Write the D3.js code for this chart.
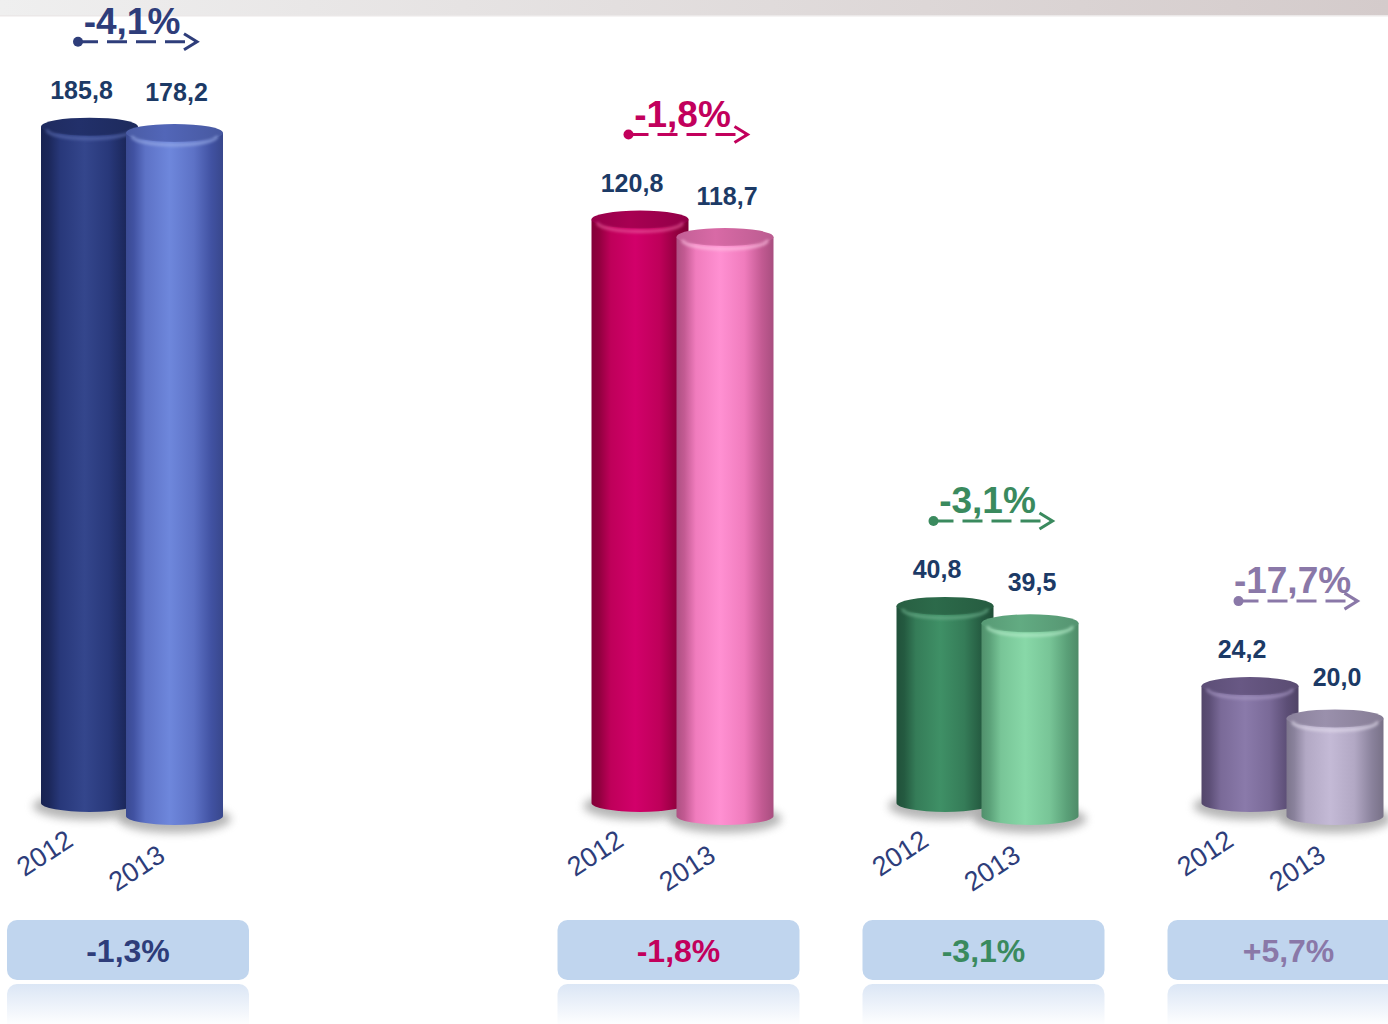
<!DOCTYPE html>
<html lang="ru">
<head>
<meta charset="UTF-8">
<title>Cylinders 2012 / 2013</title>
<script src="https://d3js.org/d3.v7.min.js"></script>
<style>
    html, body { margin: 0; padding: 0; background: #fff; overflow: hidden; }
    svg { display: block; font-family: Arial, "Liberation Sans", sans-serif; }
    .value-label { font-size: 25px; font-weight: bold; fill: #1c3a66; text-anchor: middle; }
    .year-label { font-size: 27px; fill: #2e3d7a; text-anchor: middle; }
    .change-label { font-size: 37px; font-weight: bold; text-anchor: middle; }
    .total-label { font-size: 32px; font-weight: bold; text-anchor: middle; }
</style>
</head>
<body>
<svg id="chart" width="1388" height="1024"></svg>
<script>
// Data
const groups = ["g1", "g2", "g3", "g4"];
const years = ["2012", "2013"];
const values2012 = [185.8, 120.8, 40.8, 24.2];
const values2013 = [178.2, 118.7, 39.5, 20.0];
const changeLabels = ["-4,1%", "-1,8%", "-3,1%", "-17,7%"];
const totalLabels = ["-1,3%", "-1,8%", "-3,1%", "+5,7%"];

// Colours per group: [2012 cylinder, 2013 cylinder], plus accent for the texts
const palette = [
    { accent: "#2e3d7a",
      c: [{ dark: "#1b275a", base: "#28387a", light: "#34468c", top: "#22306a", rim: "#5a6cb0" },
          { dark: "#4152a2", base: "#5d72c6", light: "#6e87dc", top: "#5266b8", rim: "#9aaee8" }] },
    { accent: "#c2005c",
      c: [{ dark: "#92003f", base: "#bf005a", light: "#d2006a", top: "#a80052", rim: "#e85a9c" },
          { dark: "#c25a92", base: "#f07cbd", light: "#ff90d2", top: "#d86aa6", rim: "#ffc2e4" }] },
    { accent: "#3a8a5e",
      c: [{ dark: "#245a40", base: "#357c58", light: "#3f9066", top: "#2c6a4a", rim: "#6db08c" },
          { dark: "#5aa078", base: "#78c597", light: "#88d8a8", top: "#62ab82", rim: "#b6ecca" }] },
    { accent: "#8a78a8",
      c: [{ dark: "#5c4e76", base: "#7a6a98", light: "#8a7aaa", top: "#685884", rim: "#a898c4" },
          { dark: "#8a829c", base: "#b2a8c4", light: "#c4bad6", top: "#9a90ac", rim: "#e2dcec" }] }
];

const svg = d3.select("#chart");
const width = +svg.attr("width");
const height = +svg.attr("height");

// Two panels: the first group has its own scale
const xLeft = d3.scaleBand().domain(["g1"]).range([-21, 285]);
const xMain = d3.scaleBand().domain(["g2", "g3", "g4"]).range([530, 1445]);
const yLeft = d3.scaleLinear().domain([0, 200]).range([0, 728]);
const yMain = d3.scaleLinear().domain([0, 200]).range([0, 966]);
const xYear = d3.scalePoint().domain(years).range([-42.5, 42.5]);

const panelOf = g => g === "g1"
    ? { x: xLeft, y: yLeft, front: 1.053 }
    : { x: xMain, y: yMain, front: 1.01 };

const baseY = { "2012": 803, "2013": 816 };   // front row sits lower
const cylR = 48.5, cylRy = 9;

const fmt = d3.formatLocale({ decimal: ",", thousands: " ", grouping: [3], currency: ["", ""] }).format(".1f");

// Defs
const defs = svg.append("defs");

const topBand = defs.append("linearGradient").attr("id", "topband");
topBand.append("stop").attr("offset", "0%").attr("stop-color", "#efefef");
topBand.append("stop").attr("offset", "100%").attr("stop-color", "#d4cbcb");

const refl = defs.append("linearGradient").attr("id", "refl")
    .attr("x1", 0).attr("y1", 0).attr("x2", 0).attr("y2", 1);
refl.append("stop").attr("offset", "0%").attr("stop-color", "#dbe6f5");
refl.append("stop").attr("offset", "85%").attr("stop-color", "#ffffff");

defs.append("filter").attr("id", "shadowBlur")
    .attr("x", "-50%").attr("y", "-100%").attr("width", "200%").attr("height", "300%")
    .append("feGaussianBlur").attr("stdDeviation", 4);
defs.append("filter").attr("id", "rimBlur")
    .attr("x", "-20%").attr("y", "-100%").attr("width", "140%").attr("height", "300%")
    .append("feGaussianBlur").attr("stdDeviation", 1.6);

palette.forEach((p, gi) => {
    p.c.forEach((c, yi) => {
        const body = defs.append("linearGradient").attr("id", `body-${gi}-${yi}`);
        [[0, d3.color(c.dark).darker(0.3)], [0.08, c.dark], [0.2, c.base], [0.45, c.light],
         [0.7, c.base], [0.88, c.dark], [1, d3.color(c.dark).darker(0.4)]]
            .forEach(([o, col]) => body.append("stop").attr("offset", o).attr("stop-color", col));
        const top = defs.append("linearGradient").attr("id", `top-${gi}-${yi}`);
        [[0, d3.color(c.top).darker(0.3)], [0.4, c.top], [1, d3.color(c.top).darker(0.4)]]
            .forEach(([o, col]) => top.append("stop").attr("offset", o).attr("stop-color", col));
    });
});

// Top band
svg.append("rect").attr("x", 0).attr("y", 0).attr("width", width).attr("height", 15)
    .attr("fill", "url(#topband)");
svg.append("rect").attr("x", 0).attr("y", 15).attr("width", width).attr("height", 1.5)
    .attr("fill", "#ebe8e8");

// Build cylinder records
const cyl = [];
groups.forEach((g, gi) => {
    const p = panelOf(g);
    const gc = p.x(g) + p.x.bandwidth() / 2;
    [values2012[gi], values2013[gi]].forEach((v, yi) => {
        const yr = years[yi];
        const h = p.y(v) * (yi === 1 ? p.front : 1);
        cyl.push({ g, gi, yi, yr, v, cx: gc + xYear(yr), bot: baseY[yr], top: baseY[yr] - h, gc });
    });
});

// Shadows
svg.append("g").selectAll("ellipse").data(cyl).join("ellipse")
    .attr("cx", d => d.cx).attr("cy", d => d.bot + 3)
    .attr("rx", cylR + 8).attr("ry", cylRy + 5)
    .attr("fill", "#7a7a7a").attr("opacity", 0.55)
    .attr("filter", "url(#shadowBlur)");

// Cylinders: back row (2012) first, then front row (2013)
const cg = svg.append("g").selectAll("g").data(cyl.slice().sort((a, b) => a.yi - b.yi)).join("g");

cg.append("path")
    .attr("d", d => `M${d.cx - cylR},${d.top} L${d.cx - cylR},${d.bot}` +
        ` A${cylR},${cylRy} 0 0 0 ${d.cx + cylR},${d.bot} L${d.cx + cylR},${d.top} Z`)
    .attr("fill", d => `url(#body-${d.gi}-${d.yi})`);

cg.append("ellipse")
    .attr("cx", d => d.cx).attr("cy", d => d.top)
    .attr("rx", cylR).attr("ry", cylRy)
    .attr("fill", d => `url(#top-${d.gi}-${d.yi})`);

cg.append("path")
    .attr("d", d => `M${d.cx - cylR + 6},${d.top + 3} A${cylR - 6},${cylRy} 0 0 0 ${d.cx + cylR - 6},${d.top + 3}`)
    .attr("fill", "none")
    .attr("stroke", d => palette[d.gi].c[d.yi].rim)
    .attr("stroke-width", 3).attr("opacity", 0.75)
    .attr("filter", "url(#rimBlur)");

// Value labels
svg.append("g").selectAll("text").data(cyl).join("text")
    .attr("class", "value-label")
    .attr("x", d => d.cx + (d.yi === 0 ? -8 : 2))
    .attr("y", d => d.top - cylRy - (d.yi === 0 ? 19 : 23))
    .text(d => fmt(d.v));

// Year labels
svg.append("g").selectAll("text").data(cyl).join("text")
    .attr("class", "year-label")
    .attr("transform", d => `translate(${d.cx + (d.yi === 0 ? -45 : -38)},${d.yi === 0 ? 853 : 868}) rotate(-33)`)
    .attr("dy", "0.35em")
    .text(d => d.yr);

// Change arrows and labels above each pair
const ann = svg.append("g").selectAll("g").data(groups).join("g")
    .attr("transform", (g, gi) => {
        const c = cyl.filter(d => d.gi === gi);
        const topEdge = d3.min(c, d => d.top) - cylRy;
        return `translate(${c[0].gc},${topEdge - 76})`;
    })
    .attr("fill", (g, gi) => palette[gi].accent)
    .attr("stroke", (g, gi) => palette[gi].accent);

ann.append("circle").attr("cx", -54).attr("cy", 0).attr("r", 5).attr("stroke", "none");
ann.append("line").attr("x1", -54).attr("x2", 64).attr("y1", 0).attr("y2", 0)
    .attr("stroke-width", 3).attr("stroke-dasharray", "20 9");
ann.append("path").attr("d", "M52,-8 L65,0 L52,8")
    .attr("fill", "none").attr("stroke-width", 3);
ann.append("text").attr("class", "change-label")
    .attr("x", 0).attr("y", -8).attr("stroke", "none")
    .text((g, gi) => changeLabels[gi]);

// Total change boxes with reflection
const box = svg.append("g").selectAll("g").data(groups).join("g")
    .attr("transform", (g) => {
        const p = panelOf(g);
        return `translate(${p.x(g) + p.x.bandwidth() / 2 - 4},0)`;
    });

box.append("rect").attr("x", -121).attr("y", 984).attr("width", 242).attr("height", 50)
    .attr("rx", 10).attr("fill", "url(#refl)");
box.append("rect").attr("x", -121).attr("y", 920).attr("width", 242).attr("height", 60)
    .attr("rx", 10).attr("fill", "#c0d5ee");
box.append("text").attr("class", "total-label")
    .attr("x", 0).attr("y", 962)
    .attr("fill", (g, gi) => palette[gi].accent)
    .text((g, gi) => totalLabels[gi]);
</script>
</body>
</html>
